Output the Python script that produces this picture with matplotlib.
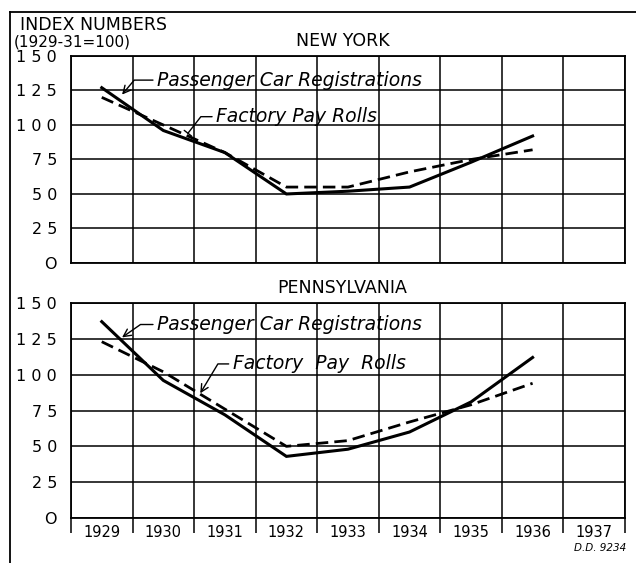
import numpy as np
import matplotlib
matplotlib.use("Agg")
import matplotlib.pyplot as plt
from matplotlib.lines import Line2D

years = ['1929', '1930', '1931', '1932', '1933', '1934', '1935', '1936', '1937']
ny_cars = [127, 96, 80, 50, 52, 55, 73, 92]
ny_pay = [120, 100, 80, 55, 55, 66, 75, 82]
pa_cars = [137, 96, 72, 43, 48, 60, 81, 112]
pa_pay = [123, 102, 76, 50, 54, 67, 79, 94]
yticks = [0, 25, 50, 75, 100, 125, 150]
ylabels = ['O', '2 5', '5 0', '7 5', '1 0 0', '1 2 5', '1 5 0']

plt.rcParams['font.family'] = ['DejaVu Sans']

fig = plt.figure(figsize=(6.36, 5.63), dpi=100)
ax1 = fig.add_axes([0.1116, 0.5329, 0.871, 0.3677])
ax2 = fig.add_axes([0.1116, 0.0799, 0.871, 0.3819])

xs = np.arange(len(ny_cars)) + 0.5


def setup(ax, title, title_y):
    ax.set_xlim(0, 9)
    ax.set_ylim(0, 150)
    ax.set_xticks(np.arange(10))
    ax.set_yticks(yticks)
    ax.set_yticklabels(ylabels, fontsize=11.5)
    ax.tick_params(axis='y', length=0, pad=10)
    ax.grid(True, color='black', lw=1.1)
    for s in ax.spines.values():
        s.set_linewidth(1.3)
    ax.set_axisbelow(True)
    ax.text(0.49, title_y, title, transform=ax.transAxes, ha='center',
            va='bottom', fontsize=12.5)


setup(ax1, 'NEW YORK', 1.03)
ax1.tick_params(axis='x', length=0, labelbottom=False)
setup(ax2, 'PENNSYLVANIA', 1.03)
ax2.tick_params(axis='x', which='major', direction='out', length=11,
                width=1.1, labelbottom=False)
ax2.set_xticks(xs.tolist() + [8.5], minor=True)
ax2.set_xticklabels(years, minor=True, fontsize=10.5)
ax2.tick_params(axis='x', which='minor', length=0, pad=5)

for ax, cars, pay in [(ax1, ny_cars, ny_pay), (ax2, pa_cars, pa_pay)]:
    ax.plot(xs, cars, color='black', lw=2.2, solid_joinstyle='miter')
    ax.plot(xs, pay, color='black', lw=2.0, dashes=(4.5, 2.2))

lab = dict(fontsize=13.5, style='italic', va='center', ha='left')
arr = dict(arrowstyle='->', color='black', lw=1.0, shrinkA=1, shrinkB=0,
           relpos=(0, 0.5))

ax1.annotate('Passenger Car Registrations', xy=(0.83, 122), xytext=(1.40, 132.5),
             arrowprops=dict(arr, connectionstyle='angle,angleA=0,angleB=50'), **lab)
ax1.annotate('Factory Pay Rolls', xy=(1.90, 94), xytext=(2.36, 106),
             arrowprops=dict(arr, arrowstyle='-[, widthB=0.25, lengthB=0',
                             connectionstyle='angle,angleA=0,angleB=52'), **lab)
ax2.annotate('Passenger Car Registrations', xy=(0.83, 126), xytext=(1.40, 135),
             arrowprops=dict(arr, connectionstyle='angle,angleA=0,angleB=35'), **lab)
ax2.annotate('Factory  Pay  Rolls', xy=(2.10, 87), xytext=(2.63, 107.5),
             arrowprops=dict(arr, connectionstyle='angle,angleA=0,angleB=59'), **lab)

fig.text(0.032, 0.955, 'INDEX NUMBERS', fontsize=12.5, ha='left', va='center')
fig.text(0.022, 0.925, '(1929-31=100)', fontsize=11, ha='left', va='center')
fig.text(0.985, 0.027, 'D.D. 9234', fontsize=7.5, style='italic', ha='right',
         va='center')

fig.add_artist(Line2D([0.016, 0.016], [0, 0.979], color='black', lw=1.3))
fig.add_artist(Line2D([0.016, 1.0], [0.979, 0.979], color='black', lw=1.3))

fig.savefig('out.png', dpi=100, facecolor='white')
